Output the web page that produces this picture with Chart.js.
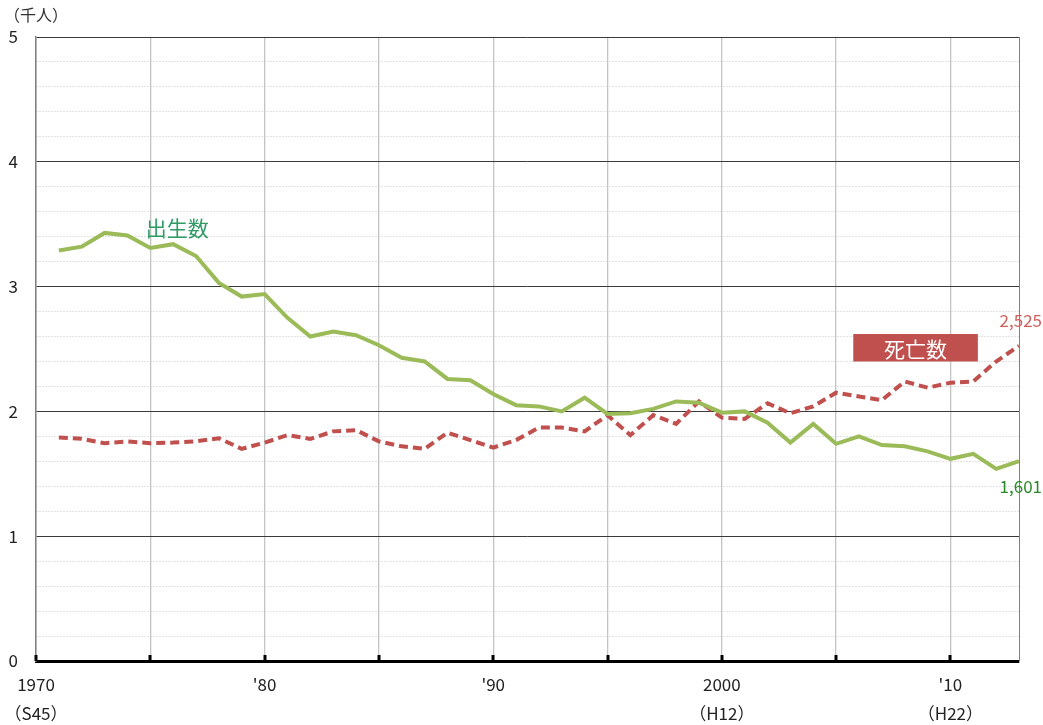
<!DOCTYPE html>
<html>
<head>
<meta charset="utf-8">
<script src="https://cdn.jsdelivr.net/npm/chart.js@4"></script>
<style>
  body { margin: 0; background: #fff; }
  #wrap { width: 1043px; height: 725px; }
</style>
</head>
<body>
<div id="wrap"><canvas id="lineChart" width="1043" height="725"></canvas></div>
<script>
// data (thousand people)
const years = [1971, 1972, 1973, 1974, 1975, 1976, 1977, 1978, 1979, 1980,
	1981, 1982, 1983, 1984, 1985, 1986, 1987, 1988, 1989, 1990,
	1991, 1992, 1993, 1994, 1995, 1996, 1997, 1998, 1999, 2000,
	2001, 2002, 2003, 2004, 2005, 2006, 2007, 2008, 2009, 2010,
	2011, 2012, 2013];
const births = [3.29, 3.32, 3.43, 3.41, 3.31, 3.34, 3.245, 3.03, 2.92, 2.94,
	2.75, 2.60, 2.64, 2.61, 2.53, 2.43, 2.40, 2.26, 2.25, 2.14,
	2.05, 2.04, 2.00, 2.11, 1.98, 1.985, 2.02, 2.08, 2.07, 1.99,
	2.00, 1.91, 1.75, 1.90, 1.74, 1.80, 1.73, 1.72, 1.68, 1.62,
	1.66, 1.54, 1.601];
const deaths = [1.79, 1.78, 1.745, 1.76, 1.745, 1.75, 1.76, 1.785, 1.70, 1.75,
	1.81, 1.78, 1.84, 1.85, 1.76, 1.72, 1.70, 1.83, 1.77, 1.71,
	1.77, 1.87, 1.87, 1.84, 1.97, 1.81, 1.97, 1.90, 2.08, 1.95,
	1.94, 2.065, 1.985, 2.04, 2.15, 2.12, 2.09, 2.24, 2.19, 2.23,
	2.24, 2.40, 2.525];

const gridYears = [1970, 1975, 1980, 1985, 1990, 1995, 2000, 2005, 2010];
const yearLabels = {
	1970: ['1970', '（S45）'],
	1980: ["'80"],
	1990: ["'90"],
	2000: ['2000', '（H12）'],
	2010: ["'10", '（H22）']
};

const FONT = "'Noto Sans CJK JP', 'Noto Sans', sans-serif";

// labels, borders and inner tick marks
const decor = {
	id: 'decor',
	afterDatasetsDraw(chart) {
		const ctx = chart.ctx;
		const a = chart.chartArea;
		const x = chart.scales.x;
		const y = chart.scales.y;
		ctx.save();

		// right frame
		ctx.strokeStyle = '#808080';
		ctx.lineWidth = 1;
		ctx.beginPath();
		ctx.moveTo(a.right + 0.5, a.top);
		ctx.lineTo(a.right + 0.5, a.bottom);
		ctx.stroke();

		// inner tick marks on the bottom axis
		ctx.strokeStyle = '#000';
		ctx.lineWidth = 3;
		gridYears.forEach(v => {
			const px = Math.round(x.getPixelForValue(v));
			ctx.beginPath();
			ctx.moveTo(px, a.bottom);
			ctx.lineTo(px, a.bottom - 6);
			ctx.stroke();
		});

		// unit
		ctx.fillStyle = '#333';
		ctx.font = '16px ' + FONT;
		ctx.textAlign = 'left';
		ctx.textBaseline = 'middle';
		ctx.fillText('（千人）', 4, 15);

		// series names
		ctx.fillStyle = '#2f9a63';
		ctx.font = '21px ' + FONT;
		ctx.textAlign = 'left';
		ctx.fillText('出生数', x.getPixelForValue(1974.8), y.getPixelForValue(3.47));

		const bx = x.getPixelForValue(2005.75);
		const bw = x.getPixelForValue(2011.2) - bx;
		const by = y.getPixelForValue(2.62);
		const bh = y.getPixelForValue(2.40) - by;
		ctx.fillStyle = '#c0504d';
		ctx.fillRect(bx, by, bw, bh);
		ctx.fillStyle = '#fff';
		ctx.textAlign = 'center';
		ctx.fillText('死亡数', bx + bw / 2, by + bh / 2 + 1);

		// end values
		ctx.font = '17px ' + FONT;
		ctx.textAlign = 'right';
		ctx.fillStyle = '#d0605c';
		ctx.fillText('2,525', chart.width - 1, y.getPixelForValue(2.73));
		ctx.fillStyle = '#2a8a2a';
		ctx.fillText('1,601', chart.width - 1, y.getPixelForValue(1.40));

		ctx.restore();
	}
};

const ctx = document.getElementById('lineChart').getContext('2d');
const myChart = new Chart(ctx, {
	type: 'line',
	data: {
		datasets: [
			{
				label: '出生数',
				data: years.map((yr, i) => ({ x: yr, y: births[i] })),
				borderColor: '#9bbb59',
				borderWidth: 4,
				pointRadius: 0,
				tension: 0,
				fill: false
			},
			{
				label: '死亡数',
				data: years.map((yr, i) => ({ x: yr, y: deaths[i] })),
				borderColor: '#c0504d',
				borderWidth: 4,
				borderDash: [9, 5],
				pointRadius: 0,
				tension: 0,
				fill: false
			}
		]
	},
	options: {
		responsive: false,
		animation: false,
		layout: { padding: { top: 37, right: 24, left: 0, bottom: 0 } },
		plugins: {
			legend: { display: false },
			tooltip: { enabled: false }
		},
		scales: {
			x: {
				type: 'linear',
				min: 1970,
				max: 2013,
				afterBuildTicks: scale => {
					scale.ticks = gridYears.map(v => ({ value: v }));
				},
				afterFit: scale => {
					scale.height = 64;
					scale.paddingLeft = 0;
					scale.paddingRight = 0;
				},
				grid: { color: '#c4c4c4', lineWidth: 1.3, drawTicks: false },
				border: { color: '#000', width: 3 },
				ticks: {
					autoSkip: false,
					maxRotation: 0,
					padding: 9,
					color: '#222',
					font: { family: FONT, size: 17, lineHeight: 1.7 },
					callback: v => yearLabels[v] || ''
				}
			},
			y: {
				min: 0,
				max: 5,
				afterFit: scale => { scale.width = 36; },
				grid: {
					drawTicks: false,
					color: c => (Math.abs(c.tick.value - Math.round(c.tick.value)) < 1e-6 ? '#3a3a3a' : '#c4c4c4'),
					lineWidth: 1
				},
				border: {
					color: '#808080',
					width: 1.5,
					dash: c => (c.tick && Math.abs(c.tick.value - Math.round(c.tick.value)) > 1e-6 ? [1, 2] : [])
				},
				ticks: {
					stepSize: 0.2,
					autoSkip: false,
					padding: 18,
					color: '#222',
					font: { family: FONT, size: 17 },
					callback: v => (Math.abs(v - Math.round(v)) < 1e-6 ? String(Math.round(v)) : '')
				}
			}
		}
	},
	plugins: [decor]
});
</script>
</body>
</html>
